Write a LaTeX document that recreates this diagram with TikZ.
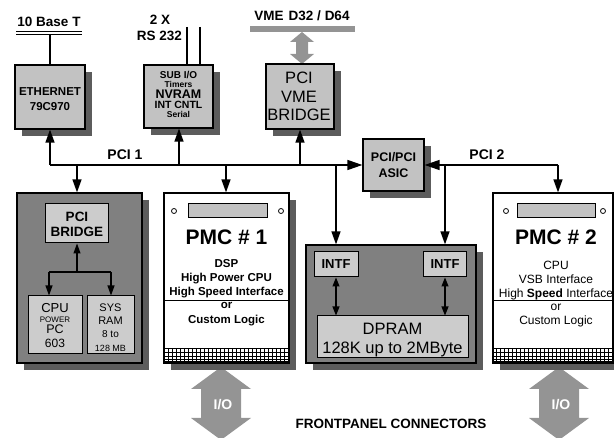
\documentclass[tikz,border=0pt]{standalone}
\usepackage{fontspec}
\setmainfont{Liberation Sans}
\usetikzlibrary{arrows.meta,shadows}
\definecolor{lightg}{gray}{0.76}
\definecolor{innerg}{gray}{0.80}
\definecolor{boardg}{gray}{0.50}
\definecolor{shadowg}{gray}{0.36}
\definecolor{iog}{gray}{0.58}
\newcommand\myfs[1]{\fontsize{#1}{#1}\selectfont}
\begin{document}
\begin{tikzpicture}[x=1pt,y=-1pt,
  box/.style={draw,line width=1.2pt,inner sep=0pt,fill=lightg,
     drop shadow={shadow xshift=7pt,shadow yshift=-7pt,fill=shadowg,opacity=1}},
  pmc/.style={box,fill=white},
  ibox/.style={draw,line width=1pt,inner sep=0pt,fill=innerg},
  lbl/.style={inner sep=0pt,text depth=0pt,align=center},
  bl/.style={lbl,font=\bfseries\myfs{#1}},
  nl/.style={lbl,font=\myfs{#1}},
  conn/.style={line width=1.3pt},
  arr/.style={conn,-{Triangle[length=13pt,width=9pt]}},
  barr/.style={conn,-{Triangle[length=15pt,width=10pt]}},
  sarr/.style={line width=1.1pt,-{Triangle[length=10pt,width=7pt]}},
  darr/.style={line width=1.1pt,{Triangle[length=9pt,width=7pt]}-{Triangle[length=9pt,width=7pt]}},
]
\clip (0,0) rectangle (614,438);

% ---------- top row ----------
\node[bl=13.5] (tenbase) at (49,22) {10 Base T};
\draw[line width=0.9pt] (16,31) -- (82,31) (16,34) -- (82,34);
\coordinate (ul) at (50,34);

\node[box,minimum width=70pt,minimum height=64pt] (eth) at (50,97) {};
\node[bl=11.5] (eth1) at (50,92) {ETHERNET};
\node[bl=11.5] (eth2) at (50,106) {79C970};
\draw[conn] (ul) -- (eth.north);

\node[bl=13.5] (twox) at (160,20) {2 X};
\node[bl=13.5] (rs) at (159.5,36) {RS 232};
\node[box,minimum width=69pt,minimum height=63pt] (sub) at (178.5,96.5) {};
\coordinate (rs1) at (187,27);
\coordinate (rs2) at (200,27);
\draw[conn] (rs1) -- (rs1 |- sub.north);
\draw[conn] (rs2) -- (rs2 |- sub.north);
\node[bl=10] (sub1) at (178.5,75) {SUB I/O};
\node[bl=8.5] (sub2) at (178.5,84) {Timers};
\node[bl=12.5] (sub3) at (178.5,94) {NVRAM};
\node[bl=10.5] (sub4) at (178.5,104.5) {INT CNTL};
\node[bl=8.5] (sub5) at (178.5,114) {Serial};

\node[bl=13.5] (vmelbl) at (302,16) {VME\hspace{5pt}D32 / D64};
\node[fill=iog,inner sep=0pt,minimum width=105pt,minimum height=6pt] (vmebar) at (302.5,29) {};
\fill[iog] (302,32) -- (314,42) -- (308,42) -- (308,54) -- (314,54) -- (302,64)
  -- (290,54) -- (296,54) -- (296,42) -- (290,42) -- cycle;
\node[box,minimum width=68pt,minimum height=65pt] (vme) at (300,96.5) {};
\node[nl=16.5] (vme1) at (299,78) {PCI};
\node[nl=16.5] (vme2) at (299,97) {VME};
\node[nl=16.5] (vme3) at (299,115) {BRIDGE};

\node[box,minimum width=61pt,minimum height=52pt] (asic) at (393.5,165) {};
\node[bl=12.5] (asic1) at (393.5,157) {PCI/PCI};
\node[bl=12.5] (asic2) at (393.5,173) {ASIC};

% ---------- lower boards ----------
\node[box,fill=boardg,minimum width=125pt,minimum height=170pt] (cpub) at (79.5,278) {};
\node[ibox,minimum width=63pt,minimum height=39pt] (bridge) at (77,223.5) {};
\node[bl=13.5] (br1) at (77,217) {PCI};
\node[bl=13.5] (br2) at (77,232) {BRIDGE};
\node[ibox,minimum width=54pt,minimum height=58pt] (cpu) at (55,325) {};
\node[ibox,minimum width=47pt,minimum height=58pt] (ram) at (110.5,325) {};
\coordinate (cj) at (77,272);
\coordinate (cl) at (49,272);
\coordinate (cr) at (111,272);
\draw[sarr] (cj) -- (bridge.south);
\draw[line width=1.1pt] (cl) -- (cr);
\draw[sarr] (cl) -- (cl |- cpu.north);
\draw[sarr] (cr) -- (cr |- ram.north);
\node[anchor=base,inner sep=0pt,font=\myfs{13}] (cpu1) at (55,313) {CPU};
\node[anchor=base,inner sep=0pt,font=\myfs{8}] (cpu2) at (55,322.5) {POWER};
\node[anchor=base,inner sep=0pt,font=\myfs{12.5}] (cpu3) at (55,334) {PC};
\node[anchor=base,inner sep=0pt,font=\myfs{12}] (cpu4) at (55,348) {603};
\node[anchor=base,inner sep=0pt,font=\myfs{11}] (ram1) at (110.5,312) {SYS};
\node[anchor=base,inner sep=0pt,font=\myfs{11}] (ram2) at (110.5,325) {RAM};
\node[anchor=base,inner sep=0pt,font=\myfs{10}] (ram3) at (110.5,338) {8 to};
\node[anchor=base,inner sep=0pt,font=\myfs{9}] (ram4) at (110.5,352) {128 MB};

% PMC 1
\fill[iog] (221,367) -- (251,389) -- (241,389) -- (241,418) -- (251,418) -- (221,440)
  -- (191,418) -- (201,418) -- (201,389) -- (191,389) -- cycle;
\node[bl=14,text=white] (io1) at (223,404) {I/O};
\node[pmc,minimum width=125pt,minimum height=170pt] (pmc1) at (226.5,278) {};
\draw[line width=0.5pt,xstep=4pt,ystep=100pt] (164,348) grid (289,363);
\foreach \yy in {348,352,356,359,361,363} \draw[line width=0.5pt] (164,\yy) -- (289,\yy);
\draw[line width=1.2pt] (pmc1.north west) rectangle (pmc1.south east);
\node[draw,line width=0.9pt,fill=lightg,inner sep=0pt,minimum width=79pt,minimum height=14pt] (slot1) at (227.5,210) {};
\node[draw,circle,line width=0.8pt,inner sep=0pt,minimum size=5pt] (h1a) at (174,211) {};
\node[draw,circle,line width=0.8pt,inner sep=0pt,minimum size=5pt] (h1b) at (281,211) {};
\node[bl=21] (pmc1t) at (226.5,237) {PMC \# 1};
\node[bl=11.5] (p1l1) at (226.5,263) {DSP};
\node[bl=11.5] (p1l2) at (226.5,277) {High Power CPU};
\node[bl=11.5] (p1l3) at (226.5,291.5) {High Speed Interface};
\node[bl=11.5] (p1l4) at (226.5,305) {or};
\node[bl=11.5] (p1l5) at (226.5,319) {Custom Logic};

% DPRAM board
\node[box,fill=boardg,minimum width=170pt,minimum height=118pt] (dpb) at (391,304) {};
\node[ibox,minimum width=44pt,minimum height=25pt,font=\bfseries\myfs{13}] (intf1) at (336,264.5) {INTF};
\node[ibox,minimum width=43pt,minimum height=25pt,font=\bfseries\myfs{13}] (intf2) at (445,264.5) {INTF};
\node[ibox,minimum width=151pt,minimum height=42pt] (dpram) at (392.5,337) {};
\node[nl=16.5] (dp1) at (392.5,328.5) {DPRAM};
\node[nl=16.5] (dp2) at (392.5,348) {128K up to 2MByte};
\draw[darr] (intf1.south) -- (intf1.south |- dpram.north);
\draw[darr] (intf2.south) -- (intf2.south |- dpram.north);

% PMC 2
\fill[iog] (559,367) -- (589,389) -- (579,389) -- (579,418) -- (589,418) -- (559,440)
  -- (529,418) -- (539,418) -- (539,389) -- (529,389) -- cycle;
\node[bl=14,text=white] (io2) at (561,404) {I/O};
\node[pmc,minimum width=120pt,minimum height=170pt] (pmc2) at (553,278) {};
\draw[line width=0.5pt,xstep=4pt,ystep=100pt] (493,348) grid (613,363);
\foreach \yy in {348,352,356,359,361,363} \draw[line width=0.5pt] (493,\yy) -- (613,\yy);
\draw[line width=1.2pt] (pmc2.north west) rectangle (pmc2.south east);
\node[draw,line width=0.9pt,fill=lightg,inner sep=0pt,minimum width=78pt,minimum height=14pt] (slot2) at (556,210) {};
\node[draw,circle,line width=0.8pt,inner sep=0pt,minimum size=5pt] (h2a) at (506,211) {};
\node[draw,circle,line width=0.8pt,inner sep=0pt,minimum size=5pt] (h2b) at (603,211) {};
\node[bl=21] (pmc2t) at (556,237) {PMC \# 2};
\node[nl=12] (p2l1) at (556,265) {CPU};
\node[nl=12] (p2l2) at (556,279) {VSB Interface};
\node[nl=12] (p2l3) at (556,293) {High \textbf{Speed} Interface};
\node[nl=12] (p2l4) at (556,307) {or};
\node[nl=12] (p2l5) at (556,320) {Custom Logic};

\node[bl=13.5] (front) at (391,424) {FRONTPANEL CONNECTORS};

% ---------- buses ----------
\coordinate (p1a) at (50,165);
\coordinate (p1b) at (77,165);
\coordinate (p1c) at (179,165);
\coordinate (p1d) at (226,165);
\coordinate (p1e) at (300,165);
\coordinate (p1f) at (336,165);
\coordinate (p2a) at (445,165);
\coordinate (p2b) at (558,165);
\draw[barr] (p1a) -- (asic.west);
\draw[barr] (p2b) -- (asic.east);
\draw[arr] (p1a) -- (eth.south);
\draw[arr] (p1b) -- (p1b |- cpub.north);
\draw[arr] (p1c) -- (p1c |- sub.south);
\draw[arr] (p1d) -- (p1d |- pmc1.north);
\draw[arr] (p1e) -- (vme.south);
\draw[arr] (p1f) -- (p1f |- dpb.north);
\draw[arr] (p2a) -- (p2a |- dpb.north);
\draw[arr] (p2b) -- (p2b |- pmc2.north);
\node[bl=14] (pci1) at (125,155) {PCI 1};
\node[bl=14] (pci2) at (487,155) {PCI 2};
\end{tikzpicture}
\end{document}
